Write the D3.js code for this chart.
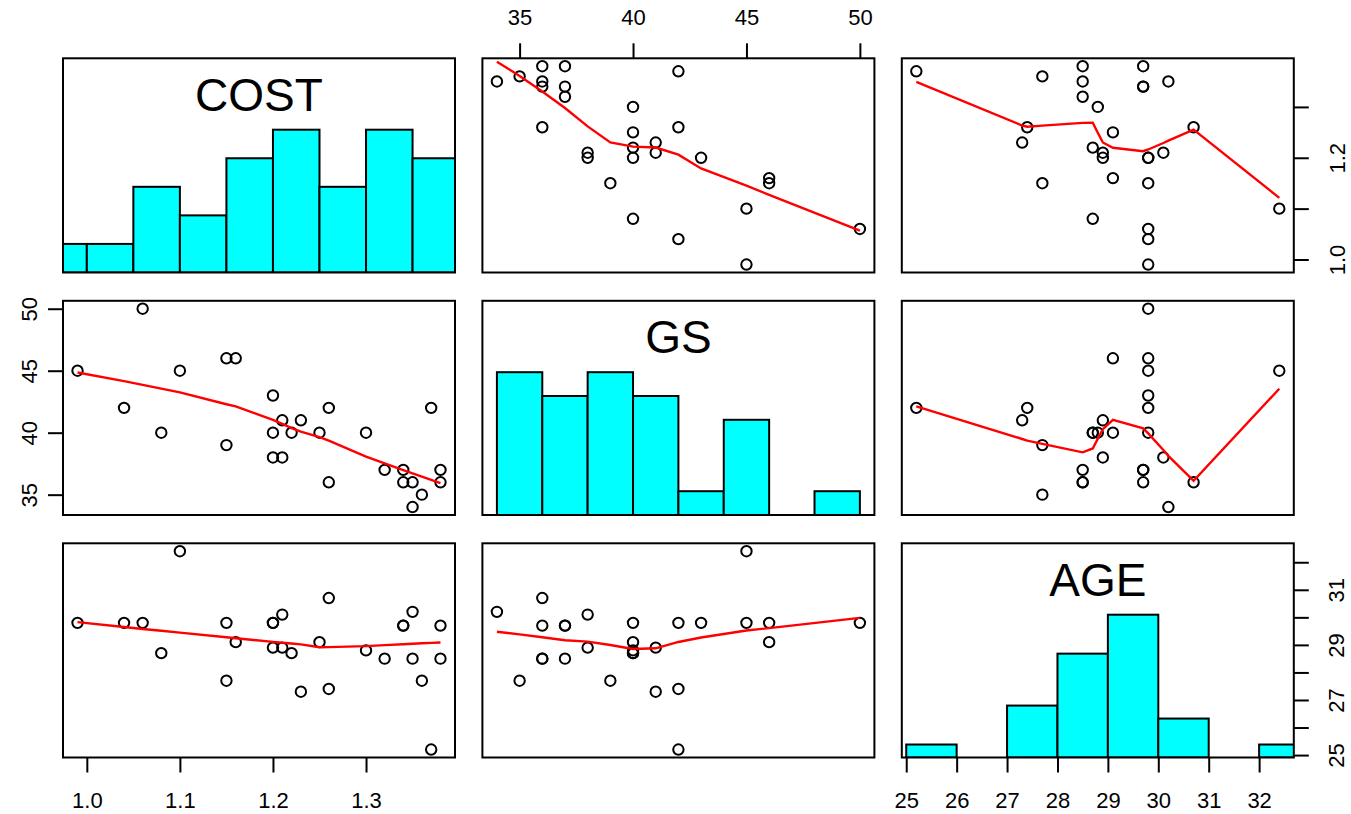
<!DOCTYPE html>
<html>
<head>
<meta charset="utf-8">
<script src="https://cdn.jsdelivr.net/npm/d3@7"></script>
<style>
body { margin: 0; background: #fff; }
svg { display: block; font-family: "Liberation Sans", Arial, sans-serif; }
.box { fill: none; stroke: #000; stroke-width: 2; }
.axis line { stroke: #000; stroke-width: 2; }
.axis text { font-size: 22px; fill: #000; }
.bar { fill: #00ffff; stroke: #000; stroke-width: 2; }
.pt { fill: none; stroke: #000; stroke-width: 2; }
.smooth { fill: none; stroke: #ff0000; stroke-width: 2.4; }
.diag-label { font-size: 46px; fill: #000; }
</style>
</head>
<body>
<div id="chart"></div>
<script>
// one value per observation, same order in all three arrays
let cost = [1.35, 1.36, 1.38, 1.35, 1.34, 1.26, 1.38, 1.34, 1.32, 1.21,
            1.20, 1.15, 1.30, 1.25, 1.22, 1.20, 1.08, 1.23, 1.21, 1.37,
            1.26, 1.04, 1.20, 1.10, 0.99, 1.16, 1.15, 1.06];
let gs   = [34, 35, 36, 36, 36, 36, 37, 37, 37, 38,
            38, 39, 40, 40, 40, 40, 40, 41, 41, 42,
            42, 42, 43, 45, 45, 46, 46, 50];
let age  = [30.2, 27.7, 28.5, 28.5, 29.7, 30.7, 29.7, 29.7, 28.5, 30.1,
            28.9, 27.7, 28.8, 29.1, 28.7, 29.8, 28.7, 27.3, 28.9, 25.2,
            27.4, 29.8, 29.8, 32.4, 29.8, 29.1, 29.8, 29.8];

let varNames = ["COST", "GS", "AGE"];

// histogram break points
let costBreaks = [0.95, 1.00, 1.05, 1.10, 1.15, 1.20, 1.25, 1.30, 1.35, 1.40];
let gsBreaks   = [34, 36, 38, 40, 42, 44, 46, 48, 50];
let ageBreaks  = [25, 26, 27, 28, 29, 30, 31, 32, 33];

// tick values and labels
let costTicks = [1.0, 1.1, 1.2, 1.3];
let costLabelsBottom = ["1.0", "1.1", "1.2", "1.3"];
let costLabelsRight  = ["1.0", "", "1.2", ""];
let gsTicks = [35, 40, 45, 50];
let gsLabels = ["35", "40", "45", "50"];
let ageTicks = [25, 26, 27, 28, 29, 30, 31, 32];
let ageLabelsBottom = ["25", "26", "27", "28", "29", "30", "31", "32"];
let ageLabelsRight  = ["25", "", "27", "", "29", "", "31", ""];

let totalWidth = 1351, totalHeight = 814;
let panelW = 392, panelH = 214.2;
let lefts = [63, 482.4, 901.8];
let tops = [58.3, 300.8, 543.3];

let vars = [cost, gs, age];
let breaks = [costBreaks, gsBreaks, ageBreaks];

let svg = d3.select("#chart").append("svg")
    .attr("width", totalWidth)
    .attr("height", totalHeight);

// R style range: data range widened by 4% each side
function padRange(v) {
    let [lo, hi] = d3.extent(v);
    let d = (hi - lo) * 0.04;
    return [lo - d, hi + d];
}

let xScales = vars.map((v, j) => d3.scaleLinear().domain(padRange(v)).range([lefts[j], lefts[j] + panelW]));
let yScales = vars.map((v, i) => d3.scaleLinear().domain(padRange(v)).range([tops[i] + panelH, tops[i]]));

// lowess as in R (clowess)
function lowest(x, y, n, xs, nleft, nright, w, userw, rw) {
    let range = x[n - 1] - x[0];
    let h = Math.max(xs - x[nleft], x[nright] - xs);
    let h9 = 0.999 * h, h1 = 0.001 * h;
    let a = 0, j = nleft;
    while (j < n) {
        w[j] = 0;
        let r = Math.abs(x[j] - xs);
        if (r <= h9) {
            w[j] = r <= h1 ? 1 : Math.pow(1 - Math.pow(r / h, 3), 3);
            if (userw) w[j] *= rw[j];
            a += w[j];
        } else if (x[j] > xs) break;
        j++;
    }
    let nrt = j - 1;
    if (a <= 0) return null;
    for (j = nleft; j <= nrt; j++) w[j] /= a;
    if (h > 0) {
        a = 0;
        for (j = nleft; j <= nrt; j++) a += w[j] * x[j];
        let b = xs - a, c = 0;
        for (j = nleft; j <= nrt; j++) c += w[j] * (x[j] - a) * (x[j] - a);
        if (Math.sqrt(c) > 0.001 * range) {
            b /= c;
            for (j = nleft; j <= nrt; j++) w[j] *= (b * (x[j] - a) + 1);
        }
    }
    let ys = 0;
    for (j = nleft; j <= nrt; j++) ys += w[j] * y[j];
    return ys;
}

function lowess(xIn, yIn, f = 2 / 3, nsteps = 3) {
    let idx = d3.range(xIn.length).sort((a, b) => xIn[a] - xIn[b] || a - b);
    let x = idx.map(i => xIn[i]), y = idx.map(i => yIn[i]);
    let n = x.length;
    let delta = 0.01 * (x[n - 1] - x[0]);
    let ys = new Array(n).fill(0), rw = new Array(n).fill(1);
    let res = new Array(n).fill(0), w = new Array(n).fill(0);
    let ns = Math.max(2, Math.min(n, Math.floor(f * n + 1e-7)));
    for (let iter = 1; iter <= nsteps + 1; iter++) {
        let nleft = 0, nright = ns - 1, last = -1, i = 0;
        for (;;) {
            if (nright < n - 1) {
                let d1 = x[i] - x[nleft], d2 = x[nright + 1] - x[i];
                if (d1 > d2) { nleft++; nright++; continue; }
            }
            let fit = lowest(x, y, n, x[i], nleft, nright, w, iter > 1, rw);
            ys[i] = fit === null ? y[i] : fit;
            if (last < i - 1) {
                let denom = x[i] - x[last];
                for (let j = last + 1; j < i; j++) {
                    let alpha = (x[j] - x[last]) / denom;
                    ys[j] = alpha * ys[i] + (1 - alpha) * ys[last];
                }
            }
            last = i;
            let cut = x[last] + delta;
            for (i = last + 1; i < n; i++) {
                if (x[i] > cut) break;
                if (x[i] === x[last]) { ys[i] = ys[last]; last = i; }
            }
            i = Math.max(last + 1, i - 1);
            if (last >= n - 1) break;
        }
        for (let k = 0; k < n; k++) res[k] = y[k] - ys[k];
        if (iter > nsteps) break;
        let sc = d3.mean(res, Math.abs);
        let sorted = res.map(Math.abs).sort((a, b) => a - b);
        let m1 = Math.floor(n / 2);
        let cmad = n % 2 === 0 ? 3 * (sorted[m1] + sorted[n - m1 - 1]) : 6 * sorted[m1];
        if (cmad < 1e-7 * sc) break;
        let c9 = 0.999 * cmad, c1 = 0.001 * cmad;
        for (let k = 0; k < n; k++) {
            let r = Math.abs(res[k]);
            rw[k] = r <= c1 ? 1 : r <= c9 ? Math.pow(1 - Math.pow(r / cmad, 2), 2) : 0;
        }
    }
    return x.map((v, k) => [v, ys[k]]);
}

// counts with right-closed bins, first bin includes its lower edge (like R hist)
function histCounts(v, br) {
    let fuzz = 1e-7 * d3.median(d3.pairs(br, (a, b) => b - a));
    let counts = new Array(br.length - 1).fill(0);
    v.forEach(val => {
        for (let k = 0; k < br.length - 1; k++) {
            let lo = k === 0 ? br[k] - fuzz : br[k] + fuzz;
            if (val >= lo && val <= br[k + 1] + fuzz) { counts[k]++; break; }
        }
    });
    return counts;
}

function drawPanel(i, j) {
    let g = svg.append("g");
    let clipId = "clip-" + i + "-" + j;
    svg.append("clipPath").attr("id", clipId)
        .append("rect")
        .attr("x", lefts[j]).attr("y", tops[i])
        .attr("width", panelW).attr("height", panelH);

    let inner = g.append("g").attr("clip-path", "url(#" + clipId + ")");

    if (i === j) {
        let counts = histCounts(vars[j], breaks[j]);
        let maxC = d3.max(counts);
        let hy = d3.scaleLinear().domain([0, 1.5]).range([tops[i] + panelH, tops[i]]);
        let xs = xScales[j];
        inner.selectAll("rect.bar")
            .data(counts)
            .enter()
            .append("rect")
            .attr("class", "bar")
            .attr("x", (d, k) => xs(breaks[j][k]))
            .attr("width", (d, k) => xs(breaks[j][k + 1]) - xs(breaks[j][k]))
            .attr("y", d => hy(d / maxC))
            .attr("height", d => hy(0) - hy(d / maxC));

        g.append("text")
            .attr("class", "diag-label")
            .attr("x", lefts[j] + panelW / 2)
            .attr("y", tops[i] + panelH * (1 - 0.8333) + 16.5)
            .attr("text-anchor", "middle")
            .text(varNames[j]);
    } else {
        let xs = xScales[j], ys = yScales[i];
        let pts = vars[j].map((v, k) => [v, vars[i][k]]);
        inner.selectAll("circle")
            .data(pts)
            .enter()
            .append("circle")
            .attr("class", "pt")
            .attr("cx", d => xs(d[0]))
            .attr("cy", d => ys(d[1]))
            .attr("r", 5.2);

        let fit = lowess(vars[j], vars[i]);
        let line = d3.line().x(d => xs(d[0])).y(d => ys(d[1]));
        inner.append("path")
            .datum(fit)
            .attr("class", "smooth")
            .attr("d", line);
    }

    g.append("rect")
        .attr("class", "box")
        .attr("x", lefts[j]).attr("y", tops[i])
        .attr("width", panelW).attr("height", panelH);
}

for (let i = 0; i < 3; i++) {
    for (let j = 0; j < 3; j++) drawPanel(i, j);
}

// axes
function addAxis(axis, transform) {
    let a = svg.append("g")
        .attr("class", "axis")
        .attr("transform", transform)
        .call(axis);
    a.select(".domain").remove();
    return a;
}

addAxis(d3.axisBottom(xScales[0]).tickValues(costTicks).tickSize(15).tickPadding(19.5)
    .tickFormat((d, k) => costLabelsBottom[k]), "translate(0," + (tops[2] + panelH) + ")");

addAxis(d3.axisTop(xScales[1]).tickValues(gsTicks).tickSize(15).tickPadding(18.5)
    .tickFormat((d, k) => gsLabels[k]), "translate(0," + tops[0] + ")");

addAxis(d3.axisBottom(xScales[2]).tickValues(ageTicks).tickSize(15).tickPadding(19.5)
    .tickFormat((d, k) => ageLabelsBottom[k]), "translate(0," + (tops[2] + panelH) + ")");

// side axes with labels turned to read bottom to top
addAxis(d3.axisRight(yScales[0]).tickValues(costTicks).tickSize(15)
    .tickFormat((d, k) => costLabelsRight[k]), "translate(" + (lefts[2] + panelW) + ",0)")
    .selectAll(".tick text")
    .attr("transform", "rotate(-90)")
    .attr("text-anchor", "middle")
    .attr("x", 0).attr("dy", 0).attr("y", 51);

addAxis(d3.axisLeft(yScales[1]).tickValues(gsTicks).tickSize(15)
    .tickFormat((d, k) => gsLabels[k]), "translate(" + lefts[0] + ",0)")
    .selectAll(".tick text")
    .attr("transform", "rotate(-90)")
    .attr("text-anchor", "middle")
    .attr("x", 0).attr("dy", 0).attr("y", -26.3);

addAxis(d3.axisRight(yScales[2]).tickValues(ageTicks).tickSize(15)
    .tickFormat((d, k) => ageLabelsRight[k]), "translate(" + (lefts[2] + panelW) + ",0)")
    .selectAll(".tick text")
    .attr("transform", "rotate(-90)")
    .attr("text-anchor", "middle")
    .attr("x", 0).attr("dy", 0).attr("y", 50);
</script>
</body>
</html>
